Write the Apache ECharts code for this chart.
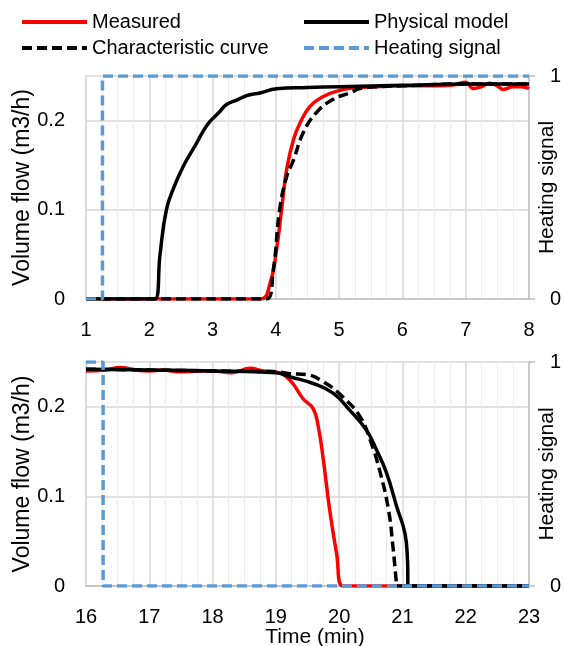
<!DOCTYPE html>
<html>
<head>
<meta charset="utf-8">
<script src="https://cdn.jsdelivr.net/npm/echarts@6/dist/echarts.min.js"></script>
<style>html,body{margin:0;padding:0;background:#fff}#c{width:564px;height:646px}</style>
</head>
<body>
<div id="c"></div>
<script>
// ---- Top panel (heating on) ----
var topMeasuredT = [1, 3.75, 3.91, 4.01, 4.09, 4.17, 4.28, 4.38, 4.54, 4.75, 5.01, 5.28, 5.6, 6.0, 6.4, 6.8, 7.0, 7.12, 7.25, 7.38, 7.5, 7.59, 7.75, 7.88, 8];
var topMeasuredV = [0, 0, 0.018, 0.055, 0.1, 0.145, 0.179, 0.197, 0.216, 0.227, 0.234, 0.237, 0.238, 0.239, 0.239, 0.240, 0.243, 0.236, 0.238, 0.242, 0.239, 0.235, 0.238, 0.238, 0.236];
var topModelT = [1, 2.09, 2.17, 2.27, 2.4, 2.54, 2.65, 2.75, 2.85, 2.96, 3.1, 3.22, 3.38, 3.5, 3.59, 3.75, 4.01, 4.5, 5.0, 6.0, 7.0, 8];
var topModelV = [0, 0, 0.05, 0.1, 0.127, 0.149, 0.163, 0.175, 0.188, 0.199, 0.209, 0.218, 0.223, 0.227, 0.229, 0.231, 0.2356, 0.237, 0.238, 0.2395, 0.241, 0.241];
var topCurveT = [1, 3.85, 3.96, 4.06, 4.17, 4.28, 4.43, 4.64, 4.91, 5.17, 5.33, 5.6, 6.0, 7.0, 8];
var topCurveV = [0, 0, 0.033, 0.1, 0.137, 0.156, 0.186, 0.209, 0.224, 0.231, 0.236, 0.238, 0.239, 0.241, 0.241];
var topHeatT = [1, 1.26, 1.26, 8];
var topHeatV = [0, 0, 1, 1];

// ---- Bottom panel (heating off) ----
var botMeasuredT = [16, 16.3, 16.54, 16.8, 17.0, 17.2, 17.5, 17.8, 18.0, 18.3, 18.6, 18.8, 19.0, 19.22, 19.43, 19.59, 19.67, 19.75, 19.85, 19.96, 20.06, 23];
var botMeasuredV = [0.240, 0.241, 0.244, 0.241, 0.240, 0.241, 0.239, 0.240, 0.240, 0.238, 0.243, 0.240, 0.239, 0.23, 0.209, 0.198, 0.178, 0.141, 0.085, 0.036, 0, 0];
var botModelT = [16, 17, 18, 19, 19.22, 19.59, 19.91, 20.17, 20.43, 20.59, 20.75, 20.91, 21.04, 21.08, 21.09, 23];
var botModelV = [0.242, 0.241, 0.240, 0.238, 0.2336, 0.226, 0.215, 0.196, 0.174, 0.152, 0.126, 0.0885, 0.0588, 0.029, 0, 0];
var botCurveT = [16, 17, 18, 19, 19.22, 19.48, 19.75, 20.06, 20.33, 20.49, 20.64, 20.78, 20.85, 20.9, 20.91, 23];
var botCurveV = [0.242, 0.241, 0.240, 0.239, 0.237, 0.236, 0.228, 0.211, 0.189, 0.163, 0.129, 0.085, 0.044, 0.007, 0, 0];
var botHeatT = [16, 16.27, 16.27, 23];
var botHeatV = [1, 1, 0, 0];

var topTicks = [1, 8];
var botTicks = [16, 23];
var flowTicks = [0, 0.25, 0.1];
var names = ['Measured', 'Physical model', 'Characteristic curve', 'Heating signal'];

function pairs(t, v) { return t.map(function (x, i) { return [x, v[i]]; }); }

var FONT = 'Liberation Sans';
var GRID = '#d9d9d9', MINOR = '#ededed', AX = '#bfbfbf';

function xAx(g, r) {
  return {
    type: 'value', gridIndex: g, min: r[0], max: r[1], interval: 1,
    axisLine: { show: true, lineStyle: { color: AX, width: 1.5 } },
    axisTick: { show: false },
    minorTick: { show: false, splitNumber: 4 },
    minorSplitLine: { show: true, lineStyle: { color: MINOR, width: 1 } },
    splitLine: { show: true, lineStyle: { color: GRID, width: 1.5 } },
    axisLabel: { fontFamily: FONT, fontSize: 20, color: '#000', margin: 21 }
  };
}
function yFlow(g) {
  return {
    type: 'value', gridIndex: g, min: flowTicks[0], max: flowTicks[1], interval: flowTicks[2],
    name: 'Volume flow (m3/h)', nameLocation: 'middle', nameGap: 52, nameRotate: 90, nameMoveOverlap: false,
    nameTextStyle: { fontFamily: FONT, fontSize: 23, color: '#000' },
    axisLine: { show: true, lineStyle: { color: GRID, width: 1.5 } },
    axisTick: { show: false },
    splitLine: { show: true, lineStyle: { color: GRID, width: 1.5 } },
    axisLabel: { fontFamily: FONT, fontSize: 20, color: '#000', margin: 21,
      formatter: function (v) { return Math.abs(v - 0.25) < 1e-6 ? '' : String(Math.round(v * 10) / 10); } }
  };
}
function yHeat(g) {
  return {
    type: 'value', gridIndex: g, position: 'right', min: 0, max: 1, interval: 1,
    name: 'Heating signal', nameLocation: 'middle', nameGap: 8, nameRotate: 90, nameMoveOverlap: false,
    nameTextStyle: { fontFamily: FONT, fontSize: 21, color: '#000' },
    axisLine: { show: true, lineStyle: { color: AX, width: 1.5 } },
    axisTick: { show: true, length: 6, lineStyle: { color: AX, width: 1.5 } },
    splitLine: { show: false },
    axisLabel: { fontFamily: FONT, fontSize: 20, color: '#000', margin: 21 }
  };
}
function ser(name, g, t, v, color, type, yIdx, z, smooth) {
  return {
    name: name, type: 'line', xAxisIndex: g, yAxisIndex: yIdx,
    data: pairs(t, v), symbol: 'none', showSymbol: false, z: z,
    smooth: smooth ? 0.45 : false,
    lineStyle: { color: color, width: 3.5, type: type === 'dash' ? [10, 5] : 'solid' },
    itemStyle: { color: color },
    animation: false
  };
}
var RED = '#ff0000', BLK = '#000000', BLUE = '#5b9bd5';

var legendBase = { itemWidth: 65, itemHeight: 14, itemStyle: { opacity: 0 }, lineStyle: { width: 4 },
  textStyle: { fontFamily: FONT, fontSize: 20, color: '#000' }, padding: 0 };
function leg(nm, l, t) { return Object.assign({}, legendBase, { data: [nm], left: l, top: t }); }

var option = {
  backgroundColor: '#fff',
  animation: false,
  legend: [leg(names[0], 20, 12), leg(names[1], 302, 12), leg(names[2], 20, 38), leg(names[3], 302, 38)],
  grid: [
    { left: 86, right: 35, top: 76, height: 223, outerBoundsMode: 'none' },
    { left: 86, right: 35, top: 362, height: 224, outerBoundsMode: 'none' }
  ],
  xAxis: [xAx(0, topTicks), xAx(1, botTicks)],
  yAxis: [yFlow(0), yHeat(0), yFlow(1), yHeat(1)],
  graphic: [{ type: 'text', x: 315, y: 637, style: { text: 'Time (min)', fontFamily: FONT, fontSize: 21, fill: '#000', align: 'center', verticalAlign: 'middle' } }],
  series: [
    ser(names[0], 0, topMeasuredT, topMeasuredV, RED, 'solid', 0, 2, true),
    ser(names[1], 0, topModelT, topModelV, BLK, 'solid', 0, 3, true),
    ser(names[2], 0, topCurveT, topCurveV, BLK, 'dash', 0, 4, true),
    ser(names[3], 0, topHeatT, topHeatV, BLUE, 'dash', 1, 5, false),
    ser(names[0], 1, botMeasuredT, botMeasuredV, RED, 'solid', 2, 2, true),
    ser(names[1], 1, botModelT, botModelV, BLK, 'solid', 2, 3, true),
    ser(names[2], 1, botCurveT, botCurveV, BLK, 'dash', 2, 4, true),
    ser(names[3], 1, botHeatT, botHeatV, BLUE, 'dash', 3, 5, false)
  ]
};
var chart = echarts.init(document.getElementById('c'), null, { renderer: 'canvas' });
chart.setOption(option);
</script>
</body>
</html>
